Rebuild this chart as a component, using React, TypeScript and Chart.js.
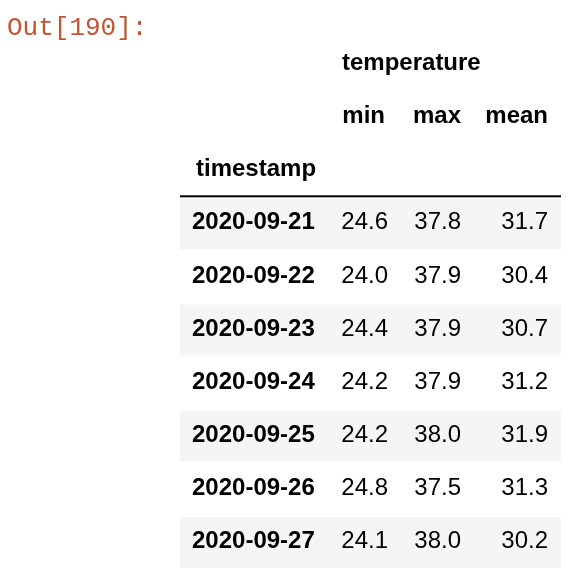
import { useEffect, useRef } from "react";
import Chart from "chart.js/auto";

const dates = ["2020-09-21", "2020-09-22", "2020-09-23", "2020-09-24", "2020-09-25", "2020-09-26", "2020-09-27"];
const minTemp = [24.6, 24.0, 24.4, 24.2, 24.2, 24.8, 24.1];
const maxTemp = [37.8, 37.9, 37.9, 37.9, 38.0, 37.5, 38.0];
const meanTemp = [31.7, 30.4, 30.7, 31.2, 31.9, 31.3, 30.2];
const columns = ["min", "max", "mean"];
const headerRows = ["temperature", "columns", "timestamp"];

const FONT = '"Liberation Sans", Arial, Helvetica, sans-serif';

const tablePlugin = {
  id: "table",
  beforeDraw(chart: any) {
    const ctx = chart.ctx as CanvasRenderingContext2D;
    const y = chart.scales.y;
    const band = y.getPixelForValue(1) - y.getPixelForValue(0);
    const left = 180;
    const right = 561;
    ctx.save();
    ctx.fillStyle = "#fff";
    ctx.fillRect(0, 0, chart.width, chart.height);

    // prompt
    ctx.fillStyle = "#c4532f";
    ctx.font = '26px "Liberation Mono", "DejaVu Sans Mono", monospace';
    ctx.textBaseline = "middle";
    ctx.textAlign = "left";
    ctx.fillText("Out[190]:", 7, 28);

    // stripes
    dates.forEach((_, i) => {
      if (i % 2 === 0) {
        const cy = y.getPixelForValue(headerRows.length + i);
        ctx.fillStyle = "#f5f5f5";
        ctx.fillRect(left, cy - band / 2 + 2, right - left, band - 2);
      }
    });

    // header rule
    const ruleY = y.getPixelForValue(headerRows.length) - band / 2;
    ctx.fillStyle = "#000";
    ctx.fillRect(left, ruleY - 1, right - left, 2);

    ctx.fillStyle = "#000";
    ctx.font = `bold 24px ${FONT}`;
    ctx.textAlign = "left";
    ctx.fillText("temperature", 342, y.getPixelForValue(0));
    const colRight = [385, 461, 548];
    ctx.textAlign = "right";
    columns.forEach((c, j) => ctx.fillText(c, colRight[j], y.getPixelForValue(1)));
    ctx.textAlign = "left";
    ctx.fillText("timestamp", 196, y.getPixelForValue(2));

    const numRight = [388, 461, 548];
    dates.forEach((d, i) => {
      const cy = y.getPixelForValue(headerRows.length + i);
      ctx.font = `bold 24px ${FONT}`;
      ctx.textAlign = "left";
      ctx.fillStyle = "#000";
      ctx.fillText(d, 192, cy);
      ctx.font = `24px ${FONT}`;
      ctx.textAlign = "right";
      [minTemp, maxTemp, meanTemp].forEach((arr, j) => {
        ctx.fillText(arr[i].toFixed(1), numRight[j], cy);
      });
    });
    ctx.restore();
  },
};

export default function App() {
  const ref = useRef<HTMLCanvasElement>(null);

  useEffect(() => {
    document.body.style.margin = "0";
    if (!ref.current) return;
    const chart = new Chart(ref.current, {
      type: "scatter",
      data: {
        labels: [...headerRows, ...dates],
        datasets: [{ data: [], pointRadius: 0 }],
      },
      options: {
        responsive: false,
        animation: false,
        layout: { padding: { top: 37, bottom: 8, left: 0, right: 0 } },
        plugins: { legend: { display: false }, tooltip: { enabled: false } },
        scales: {
          x: { type: "linear", display: false, min: 0, max: 1 },
          y: { type: "category", display: false, offset: true },
        },
      },
      plugins: [tablePlugin],
    });
    return () => chart.destroy();
  }, []);

  return <canvas ref={ref} width={582} height={576} style={{ display: "block" }} />;
}
